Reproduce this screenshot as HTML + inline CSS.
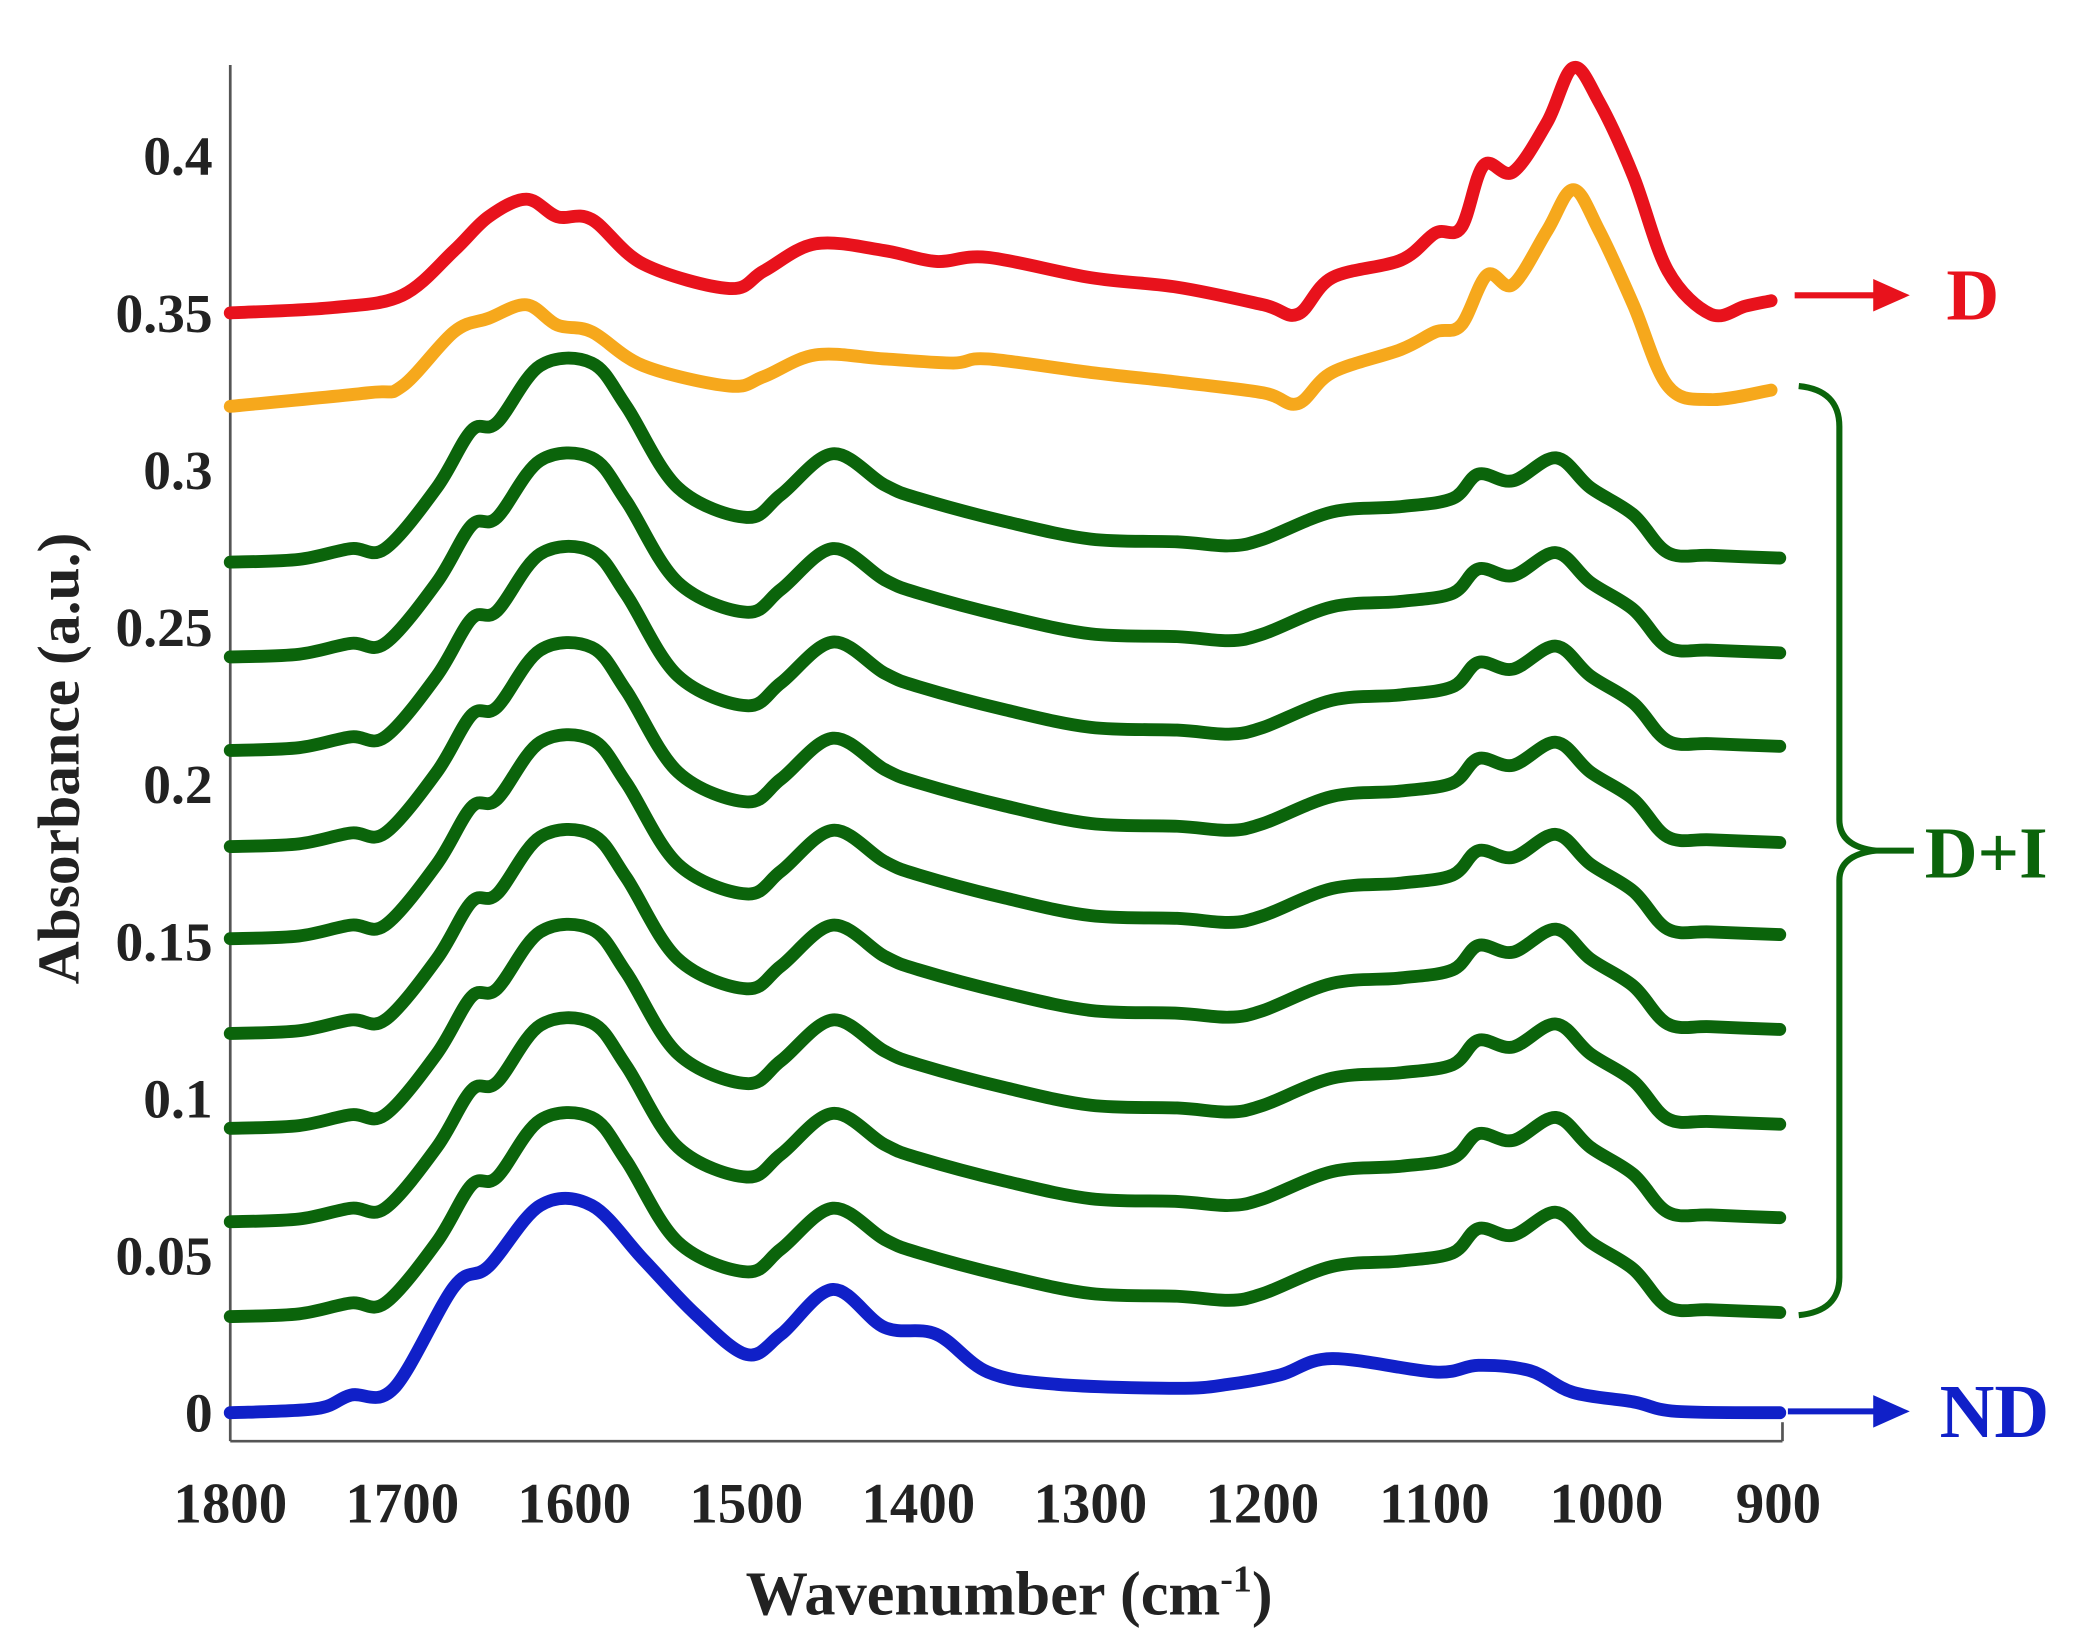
<!DOCTYPE html>
<html><head><meta charset="utf-8"><style>
html,body{margin:0;padding:0;background:#fff;}
svg{display:block;}
text{font-family:"Liberation Serif",serif;font-weight:bold;}
</style></head><body>
<svg id="s" width="2094" height="1638" viewBox="0 0 1546 1209.3" xmlns="http://www.w3.org/2000/svg">
<g fill="none" stroke="#555" stroke-width="2">
<line x1="170" y1="48" x2="170" y2="1064"/>
<line x1="170" y1="1064" x2="1316" y2="1064"/>
<line x1="1316" y1="1050" x2="1316" y2="1064"/>
</g>
<g font-size="41" fill="#222" text-anchor="end">
<text x="157" y="129">0.4</text>
<text x="157" y="245">0.35</text>
<text x="157" y="361">0.3</text>
<text x="157" y="477">0.25</text>
<text x="157" y="593">0.2</text>
<text x="157" y="709">0.15</text>
<text x="157" y="825">0.1</text>
<text x="157" y="941">0.05</text>
<text x="157" y="1057">0</text>
</g>
<g font-size="42" fill="#222" text-anchor="middle">
<text x="170" y="1124">1800</text>
<text x="297" y="1124">1700</text>
<text x="424" y="1124">1600</text>
<text x="551" y="1124">1500</text>
<text x="678" y="1124">1400</text>
<text x="805" y="1124">1300</text>
<text x="932" y="1124">1200</text>
<text x="1059" y="1124">1100</text>
<text x="1186" y="1124">1000</text>
<text x="1313" y="1124">900</text>
<text x="745" y="1192" font-size="46">Wavenumber (cm<tspan font-size="28" dy="-17">-1</tspan><tspan dy="17">)</tspan></text>
<text transform="translate(58,560) rotate(-90)" font-size="44">Absorbance (a.u.)</text>
</g>
<g id="curves" fill="none" stroke-width="9.5" stroke-linejoin="round" stroke-linecap="round"></g>
<g>
<line x1="1325" y1="218" x2="1390" y2="218" stroke="#e8121c" stroke-width="4.5"/>
<polygon points="1383,206 1410,218 1383,230" fill="#e8121c"/>
<text x="1437" y="236" font-size="54" fill="#e8121c">D</text>
<line x1="1320" y1="1042" x2="1390" y2="1042" stroke="#1020c8" stroke-width="4.5"/>
<polygon points="1383,1030 1410,1042 1383,1054" fill="#1020c8"/>
<text x="1432" y="1061" font-size="56" fill="#1020c8">ND</text>
<path d="M1328,285 Q1358,288 1358,315 L1358,605 Q1358,625 1385,628 Q1358,631 1358,650 L1358,943 Q1358,968 1328,971" fill="none" stroke="#0b640b" stroke-width="4.5"/>
<line x1="1385" y1="628" x2="1413" y2="628" stroke="#0b640b" stroke-width="4.5"/>
<text x="1421" y="648" font-size="54" fill="#0b640b">D+I</text>
</g>
</svg>
<script>
function X(w){return 170+(1800-w)*1.2711;}
function path(pts){
 var p=pts.map(function(a){return [X(a[0]),a[1]];});
 var d="M"+p[0][0].toFixed(1)+","+p[0][1].toFixed(1);
 for(var i=0;i<p.length-1;i++){
  var p0=p[i-1]||p[i],p1=p[i],p2=p[i+1],p3=p[i+2]||p2;
  var c1=[p1[0]+(p2[0]-p0[0])/6,p1[1]+(p2[1]-p0[1])/6];
  var c2=[p2[0]-(p3[0]-p1[0])/6,p2[1]-(p3[1]-p1[1])/6];
  d+="C"+c1[0].toFixed(1)+","+c1[1].toFixed(1)+" "+c2[0].toFixed(1)+","+c2[1].toFixed(1)+" "+p2[0].toFixed(1)+","+p2[1].toFixed(1);
 }
 return d;
}
var g=document.getElementById("curves");
function add(pts,col){var e=document.createElementNS("http://www.w3.org/2000/svg","path");e.setAttribute("d",path(pts));e.setAttribute("stroke",col);g.appendChild(e);}
var gw=[1800,1760,1730,1710,1680,1660,1645,1620,1590,1570,1540,1500,1480,1450,1420,1400,1350,1300,1250,1220,1200,1160,1120,1090,1075,1055,1030,1010,985,965,940,900];
var gd=[0,-2,-10,-10,-55,-97,-103,-145,-147,-115,-55,-33,-50,-80,-57,-47,-30,-17,-15,-12,-17,-37,-41,-47,-65,-60,-77,-55,-35,-7,-5,-3];
var bases=[415,485,554,625,693,763,833,902,972];
bases.forEach(function(b){add(gw.map(function(w,i){return [w,b+gd[i]];}),"#0b640b");});
add([[1800,1043],[1750,1040],[1730,1030],[1705,1025],[1670,950],[1650,935],[1620,890],[1590,890],[1560,930],[1530,970],[1500,1000],[1480,985],[1450,952],[1420,980],[1390,985],[1360,1013],[1320,1022],[1250,1025],[1220,1022],[1190,1015],[1160,1003],[1100,1013],[1075,1008],[1045,1012],[1020,1028],[985,1035],[960,1042],[900,1043]],"#1020c8");
add([[1800,300],[1720,290],[1700,285],[1670,245],[1650,235],[1628,225],[1610,240],[1590,245],[1560,270],[1510,285],[1490,278],[1460,262],[1420,265],[1380,268],[1360,265],[1300,275],[1250,282],[1200,290],[1180,298],[1160,275],[1120,258],[1100,245],[1085,240],[1070,203],[1055,210],[1035,170],[1020,140],[1005,170],[985,225],[965,285],[940,295],[905,288]],"#f6a81c");
add([[1800,231],[1740,227],[1700,218],[1670,185],[1650,160],[1628,147],[1610,160],[1590,162],[1560,195],[1510,213],[1490,200],[1460,180],[1420,185],[1390,193],[1360,190],[1300,205],[1250,212],[1200,225],[1180,232],[1160,205],[1120,192],[1100,172],[1085,168],[1072,122],[1055,127],[1035,90],[1020,50],[1005,75],[985,130],[965,200],[940,232],[920,226],[905,222]],"#e8121c");
</script>
</body></html>
